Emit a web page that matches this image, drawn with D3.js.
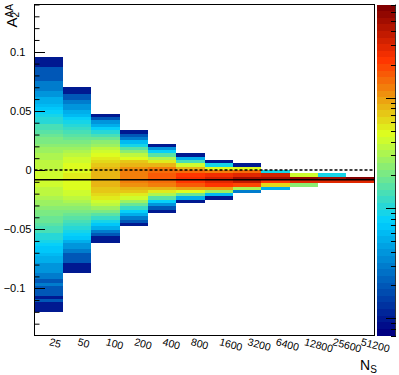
<!DOCTYPE html>
<html>
<head>
<meta charset="utf-8">
<script src="https://cdn.jsdelivr.net/npm/d3@7"></script>
<style>
  body { margin: 0; background: #fff; }
  text { font-family: "Liberation Sans", Arial, sans-serif; fill: #000; }
</style>
</head>
<body>
<svg id="chart"></svg>
<script>
// N_S categories (x bins) and the A2^AA histogram definition
var nsLabels = ["25", "50", "100", "200", "400", "800", "1600", "3200", "6400", "12800", "25600", "51200"];
var histMin = -0.14, histMax = 0.14, histBins = 100;

// first filled y-bin of every column, then its counts going up
var firstBin = [7, 19, 28, 33, 37, 40, 41, 43, 44, 45, 46, 46];
var counts25 = [1,1,1,2,1,2,2,2,3,2, 3,3,4,4,4,5,5,6,7,7, 8,9,10,11,13,13,15,17,19,20,
                22,24,27,29,31,34,36,37,39,41, 42, 41,40,38,37,35,33,31,29,27,24,
                22,20,18,16,14,13,11,10,9,8, 7,6,5,5,4,4,3,3,3,2, 2,2,2,1,1,1];
var counts50 = [1,1,1,2,2,2,3,4,4,5, 7,8,9,11,12,14,16,19,21,24, 28,32,36,39,42,45,48,48,51,
                51,48,47,45,42,39,36,32,28,24, 21,19,16,14,12,10,9,8,6,5, 4,4,3,2,2,1,1];
var counts100 = [1,1,2,3,5,7,9,12,15,20, 26,34,42,51,59,67,72,77,82,82,
                 82,80,77,72,63,55,48,42,34,28, 23,17,13,10,8,5,4,2,1];
var counts200 = [1,2,3,5,8,12,19,28,39,55, 72,88,108,124,132,
                 132,124,108,88,67,48,34,23,15,9, 6,3,2,1];
var counts400 = [1,2,4,8,15,30,51,82,124,152,174, 174,152,124,88,55,32,16,8,4,1];
var counts800 = [1,5,19,48,94,162,228,244,213,142,82,42,14,5,1];
var counts1600 = [1,6,28,95,210,300,330,250,130,45,9,1];
var counts3200 = [3,30,180,366,500,300,150,48,1];
var counts6400 = [5,59,228,514,320,9];
var counts12800 = [24,279,550,42];
var counts25600 = [279,480,9];
var counts51200 = [279,620];
var columnCounts = [counts25, counts50, counts100, counts200, counts400, counts800,
                    counts1600, counts3200, counts6400, counts12800, counts25600, counts51200];

var yMajorTicks = [-0.1, -0.05, 0, 0.05, 0.1];
var zDomain = [0.7, 700];
var zeroLine = 0, meanLine = -0.0082;

var width = 399, height = 375;
var frame = { left: 34.5, right: 374.5, top: 4.5, bottom: 335.5 };
var nColors = 50;

var svg = d3.select("#chart")
    .attr("width", width)
    .attr("height", height);

var x = d3.scaleBand()
          .domain(nsLabels)
          .range([frame.left, frame.right]);

var y = d3.scaleLinear()
          .domain([histMin, histMax])
          .range([frame.bottom, frame.top]);

var zPos = d3.scaleLog()
             .domain(zDomain)
             .range([0, 1])
             .clamp(true);

var palette = d3.scaleLinear()
                .domain([0, 0.34, 0.61, 0.84, 1])
                .range(["#000082", "#00cfff", "#ddff1f", "#ff3300", "#820000"]);

function zColor(z) {
  var i = Math.min(nColors - 1, Math.floor(zPos(z) * nColors));
  return palette(i / (nColors - 1));
}

var binWidth = (histMax - histMin) / histBins;
var cells = [];
columnCounts.forEach((col, i) => {
  col.forEach((c, j) => {
    var bin = firstBin[i] + j;
    cells.push({ ns: nsLabels[i], lo: histMin + bin * binWidth, hi: histMin + (bin + 1) * binWidth, count: c });
  });
});

svg.append("g")
    .attr("shape-rendering", "crispEdges")
  .selectAll("rect")
  .data(cells)
  .enter()
  .append("rect")
    .attr("x", d => x(d.ns))
    .attr("width", x.bandwidth())
    .attr("y", d => y(d.hi))
    .attr("height", d => y(d.lo) - y(d.hi))
    .attr("fill", d => zColor(d.count));

// reference lines
svg.append("line")
    .attr("x1", frame.left).attr("x2", frame.right)
    .attr("y1", y(zeroLine)).attr("y2", y(zeroLine))
    .attr("stroke", "#000")
    .attr("stroke-width", 1.5)
    .attr("stroke-dasharray", "3,2");

svg.append("line")
    .attr("x1", frame.left).attr("x2", frame.right)
    .attr("y1", y(meanLine)).attr("y2", y(meanLine))
    .attr("stroke", "#000")
    .attr("stroke-width", 1.5);

// frame
svg.append("rect")
    .attr("x", frame.left)
    .attr("y", frame.top)
    .attr("width", frame.right - frame.left)
    .attr("height", frame.bottom - frame.top)
    .attr("fill", "none")
    .attr("stroke", "#000")
    .attr("shape-rendering", "crispEdges");

// y axis: ticks point inside, labels on the left
function yLabel(d) {
  if (d === 0) return "0";
  return d3.format(".2f")(d).replace(/0+$/, "");
}
function yLabelShift(d) {
  if (d === 0) return 0;
  var s = d3.format(".2f")(d);
  return -(s.length - s.replace(/0+$/, "").length) * 0.556;
}

var minorTicks = d3.range(-13, 15)
                   .map(i => i / 100)
                   .filter(v => yMajorTicks.every(m => Math.abs(m - v) > 1e-9));

svg.append("g")
    .attr("transform", "translate(" + frame.left + ",0)")
    .call(d3.axisLeft(y).tickValues(minorTicks).tickSize(-5).tickFormat(""))
    .call(g => g.select(".domain").remove());

var yAxis = svg.append("g")
    .attr("transform", "translate(" + frame.left + ",0)")
    .call(d3.axisLeft(y)
            .tickValues(yMajorTicks)
            .tickSize(-10)
            .tickPadding(3)
            .tickFormat(yLabel));
yAxis.select(".domain").remove();
yAxis.selectAll(".tick line").attr("shape-rendering", "crispEdges");
yAxis.selectAll(".tick text")
    .attr("font-size", "11px")
    .attr("font-family", "'Liberation Sans', Arial, sans-serif")
    .attr("dx", d => yLabelShift(d) + "em");

// x labels, tilted, starting at bin centres
svg.append("g")
  .selectAll("text")
  .data(nsLabels)
  .enter()
  .append("text")
    .attr("transform", d => "translate(" + (x(d) + x.bandwidth() / 2) + ",345) rotate(15)")
    .attr("font-size", "10.5px")
    .text(d => d);

// axis titles
var xTitle = svg.append("text")
    .attr("x", 360)
    .attr("y", 370)
    .attr("font-size", "14px");
xTitle.append("tspan").text("N");
xTitle.append("tspan").attr("font-size", "10px").attr("dy", 3).text("S");

var yTitle = svg.append("text")
    .attr("transform", "translate(16.5,27.5) rotate(-90)")
    .attr("font-size", "15px");
yTitle.append("tspan").text("A");
yTitle.append("tspan").attr("font-size", "10px").attr("dy", 2.5).text("2");
yTitle.append("tspan").attr("font-size", "10px").attr("dx", -5.6).attr("dy", -6).text("AA");

// colour palette on the right
var pal = { left: 377, right: 396 };
var zAxis = d3.scaleLog()
              .domain(zDomain)
              .range([frame.bottom, frame.top]);

svg.append("g")
    .attr("shape-rendering", "crispEdges")
  .selectAll("rect")
  .data(d3.range(nColors))
  .enter()
  .append("rect")
    .attr("x", pal.left)
    .attr("width", pal.right - pal.left)
    .attr("y", i => zAxis(zPos.invert((i + 1) / nColors)))
    .attr("height", i => zAxis(zPos.invert(i / nColors)) - zAxis(zPos.invert((i + 1) / nColors)))
    .attr("fill", i => palette(i / (nColors - 1)));

svg.append("line")
    .attr("x1", pal.right - 0.5).attr("x2", pal.right - 0.5)
    .attr("y1", frame.top).attr("y2", frame.bottom)
    .attr("stroke", "#333");

svg.append("g")
  .selectAll("line")
  .data(zAxis.ticks())
  .enter()
  .append("line")
    .attr("x1", pal.right)
    .attr("x2", d => pal.right - (Math.abs(Math.log10(d) % 1) < 1e-9 ? 10 : 5))
    .attr("y1", d => Math.round(zAxis(d)) + 0.5)
    .attr("y2", d => Math.round(zAxis(d)) + 0.5)
    .attr("stroke", "#000");
</script>
</body>
</html>
